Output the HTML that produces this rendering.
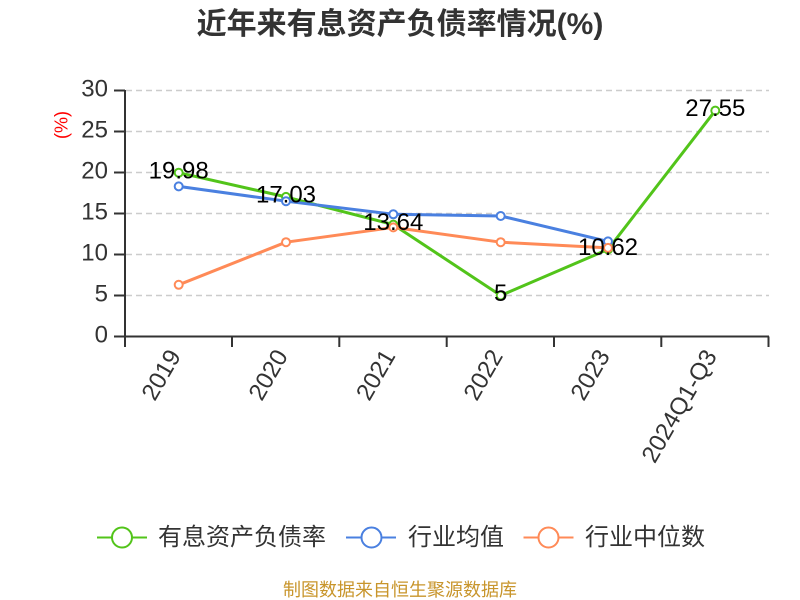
<!DOCTYPE html>
<html><head><meta charset="utf-8"><style>
html,body{margin:0;padding:0;background:#fff;}
svg{display:block;}
</style></head><body>
<svg width="800" height="600" viewBox="0 0 800 600" xmlns="http://www.w3.org/2000/svg" font-family="'Liberation Sans','Noto Sans CJK SC',sans-serif">
<text x="400" y="34" text-anchor="middle" font-size="30" font-weight="bold" fill="#333">近年来有息资产负债率情况(%)</text>
<g stroke="#ccc" stroke-width="1.5" stroke-dasharray="6 4">
<line x1="126" y1="90.5" x2="769" y2="90.5"/>
<line x1="126" y1="131.5" x2="769" y2="131.5"/>
<line x1="126" y1="172.5" x2="769" y2="172.5"/>
<line x1="126" y1="213.5" x2="769" y2="213.5"/>
<line x1="126" y1="254.5" x2="769" y2="254.5"/>
<line x1="126" y1="295.5" x2="769" y2="295.5"/>
</g>
<g stroke="#333" stroke-width="2" fill="none">
<line x1="125" y1="90" x2="125" y2="337.5"/>
<line x1="124" y1="336.5" x2="769" y2="336.5"/>
<line x1="114" y1="90.5" x2="125" y2="90.5"/>
<line x1="114" y1="131.5" x2="125" y2="131.5"/>
<line x1="114" y1="172.5" x2="125" y2="172.5"/>
<line x1="114" y1="213.5" x2="125" y2="213.5"/>
<line x1="114" y1="254.5" x2="125" y2="254.5"/>
<line x1="114" y1="295.5" x2="125" y2="295.5"/>
<line x1="114" y1="336.5" x2="125" y2="336.5"/>
<line x1="125" y1="336.5" x2="125" y2="347"/>
<line x1="232" y1="336.5" x2="232" y2="347"/>
<line x1="339.3" y1="336.5" x2="339.3" y2="347"/>
<line x1="446.7" y1="336.5" x2="446.7" y2="347"/>
<line x1="554" y1="336.5" x2="554" y2="347"/>
<line x1="661.3" y1="336.5" x2="661.3" y2="347"/>
<line x1="768.5" y1="336.5" x2="768.5" y2="347"/>
</g>
<g font-size="24" fill="#333" text-anchor="end">
<text x="108" y="96.5">30</text>
<text x="108" y="137.5">25</text>
<text x="108" y="178.5">20</text>
<text x="108" y="219.5">15</text>
<text x="108" y="260.5">10</text>
<text x="108" y="301.5">5</text>
<text x="108" y="342.5">0</text>
</g>
<text transform="translate(67.5,125) rotate(-90)" text-anchor="middle" font-size="18" fill="#f00">(%)</text>
<g font-size="24" fill="#333" text-anchor="end" dominant-baseline="central">
<text transform="translate(175,352) rotate(-60)">2019</text>
<text transform="translate(282,352) rotate(-60)">2020</text>
<text transform="translate(389.5,352) rotate(-60)">2021</text>
<text transform="translate(497,352) rotate(-60)">2022</text>
<text transform="translate(604,352) rotate(-60)">2023</text>
<text transform="translate(711,352) rotate(-60)">2024Q1-Q3</text>
</g>
<polyline fill="none" stroke="#52c41a" stroke-width="3" stroke-linejoin="round" points="178.7,172.7 286,196.9 393.3,224.6 500.7,295.5 608,249.4 715.3,110.6"/>
<polyline fill="none" stroke="#4a80e0" stroke-width="3" stroke-linejoin="round" points="178.7,186.4 286,201.2 393.3,214.3 500.7,216 608,241.4"/>
<polyline fill="none" stroke="#ff8a57" stroke-width="3" stroke-linejoin="round" points="178.7,284.8 286,242.2 393.3,227.4 500.7,242.2 608,247.9"/>
<g fill="#fff" stroke="#52c41a" stroke-width="2">
<circle cx="178.7" cy="172.7" r="4"/><circle cx="286" cy="196.9" r="4"/><circle cx="393.3" cy="224.6" r="4"/><circle cx="500.7" cy="295.5" r="4"/><circle cx="608" cy="249.4" r="4"/><circle cx="715.3" cy="110.6" r="4"/>
</g>
<g fill="#fff" stroke="#4a80e0" stroke-width="2">
<circle cx="178.7" cy="186.4" r="4"/><circle cx="286" cy="201.2" r="4"/><circle cx="393.3" cy="214.3" r="4"/><circle cx="500.7" cy="216" r="4"/><circle cx="608" cy="241.4" r="4"/>
</g>
<g fill="#fff" stroke="#ff8a57" stroke-width="2">
<circle cx="178.7" cy="284.8" r="4"/><circle cx="286" cy="242.2" r="4"/><circle cx="393.3" cy="227.4" r="4"/><circle cx="500.7" cy="242.2" r="4"/><circle cx="608" cy="247.9" r="4"/>
</g>
<g font-size="24" fill="#000" text-anchor="middle">
<text x="178.7" y="178.3">19.98</text>
<text x="286" y="202.4">17.03</text>
<text x="393.3" y="230.1">13.64</text>
<text x="500.7" y="301">5</text>
<text x="608" y="254.9">10.62</text>
<text x="715.3" y="116.1">27.55</text>
</g>
<g stroke-width="2" fill="#fff">
<line x1="97" y1="537.5" x2="147" y2="537.5" stroke="#52c41a"/>
<circle cx="122" cy="537.5" r="10" stroke="#52c41a"/>
<line x1="346" y1="537.5" x2="396" y2="537.5" stroke="#4a80e0"/>
<circle cx="371.5" cy="537.5" r="10" stroke="#4a80e0"/>
<line x1="523.5" y1="537.5" x2="573.5" y2="537.5" stroke="#ff8a57"/>
<circle cx="548.5" cy="537.5" r="10" stroke="#ff8a57"/>
</g>
<g font-size="24" fill="#333" dominant-baseline="central">
<text x="158" y="537.5">有息资产负债率</text>
<text x="408" y="537.5">行业均值</text>
<text x="585" y="537.5">行业中位数</text>
</g>
<text x="400" y="596" text-anchor="middle" font-size="18" fill="#c8952b">制图数据来自恒生聚源数据库</text>
</svg>
</body></html>
